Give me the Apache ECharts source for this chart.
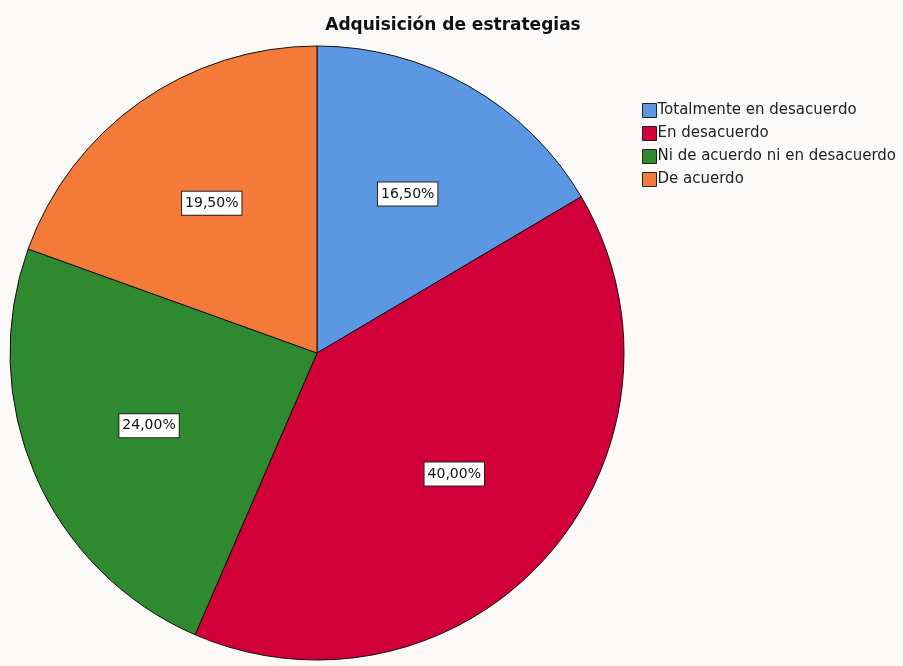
<!DOCTYPE html>
<html><head><meta charset="utf-8">
<script src="https://cdn.jsdelivr.net/npm/echarts@6/dist/echarts.min.js"></script>
<style>html,body{margin:0;padding:0;background:#fbfaf8}#c{width:903px;height:666px}</style>
</head><body><div id="c"></div>
<script>
const categories = ["Totalmente en desacuerdo", "En desacuerdo", "Ni de acuerdo ni en desacuerdo", "De acuerdo"];
const values = [16.5, 40.0, 24.0, 19.5];
const colors = ["#5b97e3", "#d20038", "#2f8a2f", "#f47a3a"];
const titleText = "Adquisición de estrategias";

const chart = echarts.init(document.getElementById('c'));
const data = categories.map((n, i) => ({ name: n, value: values[i], itemStyle: { color: colors[i] } }));
const fmt = p => p.value.toFixed(2).replace('.', ',') + '%';
chart.setOption({
  backgroundColor: '#fbfaf8',
  animation: false,
  title: { text: titleText, left: 448, top: 12, textAlign: 'center',
    textStyle: { fontFamily: 'DejaVu Sans, Arial', fontSize: 17, fontWeight: 'bold', color: '#111' } },
  legend: { orient: 'vertical', left: 637, top: 98, itemWidth: 14, itemHeight: 14, itemGap: 8,
    icon: 'rect', data: categories,
    textStyle: { fontFamily: 'DejaVu Sans, Arial', fontSize: 15, color: '#222', padding: [0,0,0,-4] },
    itemStyle: { borderColor: '#222', borderWidth: 1 } },
  series: [
    { type: 'pie', radius: [0, 307], center: [317, 353], startAngle: 90, clockwise: true,
      data: data, label: { show: false }, labelLine: { show: false },
      itemStyle: { borderColor: '#111', borderWidth: 1 }, emphasis: { disabled: true }, silent: true },
    { type: 'pie', radius: [0, 360], center: [317, 353], startAngle: 90, clockwise: true,
      data: categories.map((n, i) => ({ name: n, value: values[i] })),
      legendHoverLink: false, silent: true, emphasis: { disabled: true },
      itemStyle: { color: 'rgba(0,0,0,0)', borderWidth: 0 },
      label: { show: true, position: 'inside', formatter: fmt,
        fontFamily: 'DejaVu Sans, Arial', fontSize: 14, color: '#111',
        backgroundColor: '#ffffff', borderColor: '#222', borderWidth: 1, padding: [5, 3, 4, 3] },
      labelLine: { show: false } }
  ]
});
</script></body></html>
